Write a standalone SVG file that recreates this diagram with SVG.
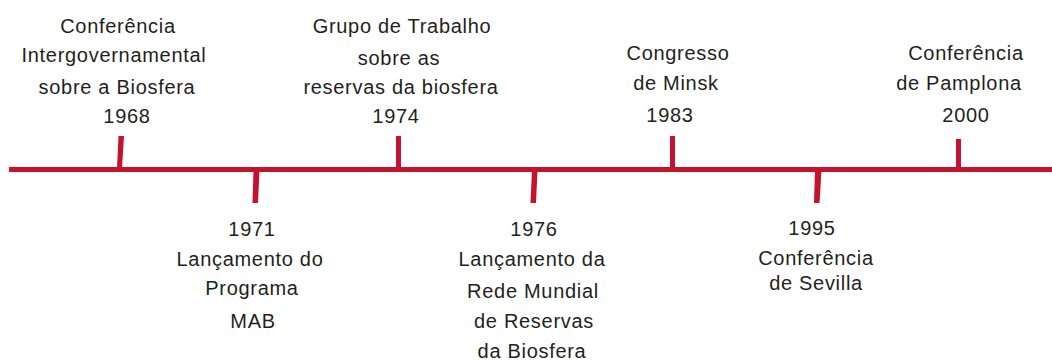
<svg xmlns="http://www.w3.org/2000/svg" width="1052" height="361" viewBox="0 0 1052 361">
<style>
  text { font-family: "Liberation Sans", Arial, sans-serif; font-size: 20px; fill: #231F20; text-anchor: middle; letter-spacing: 0.7px; }
  .red { fill: #C4122F; }
</style>
<rect width="1052" height="361" fill="#ffffff"/>
<g id="connectors">
  <rect id="axis" class="red" x="9" y="167" width="1043" height="5"/>
  <polygon class="red" points="118.5,136 124,136 122,168 117,168"/>
  <polygon class="red" points="253.5,170 259.5,170 258,203 252.5,203"/>
  <rect class="red" x="396" y="136" width="5" height="33"/>
  <polygon class="red" points="532,170 537.5,170 536,203 530.5,203"/>
  <rect class="red" x="670" y="136" width="5" height="33"/>
  <polygon class="red" points="815,170 821.5,170 819.5,203 814,203"/>
  <rect class="red" x="956" y="139" width="5" height="30"/>
</g>
<g id="e1968">
  <text x="118" y="33">Conferência</text>
  <text x="114" y="62">Intergovernamental</text>
  <text x="117" y="94">sobre a Biosfera</text>
  <text x="127" y="123">1968</text>
</g>
<g id="e1971">
  <text x="252" y="236">1971</text>
  <text x="250" y="266">Lançamento do</text>
  <text x="252" y="295">Programa</text>
  <text x="253" y="328">MAB</text>
</g>
<g id="e1974">
  <text x="402" y="33">Grupo de Trabalho</text>
  <text x="399" y="65">sobre as</text>
  <text x="401" y="94">reservas da biosfera</text>
  <text x="396" y="123">1974</text>
</g>
<g id="e1976">
  <text x="534" y="236">1976</text>
  <text x="532" y="266">Lançamento da</text>
  <text x="533" y="298">Rede Mundial</text>
  <text x="534" y="328">de Reservas</text>
  <text x="532" y="358">da Biosfera</text>
</g>
<g id="e1983">
  <text x="678" y="60">Congresso</text>
  <text x="676" y="90">de Minsk</text>
  <text x="670" y="122">1983</text>
</g>
<g id="e1995">
  <text x="812" y="235">1995</text>
  <text x="816" y="265">Conferência</text>
  <text x="816" y="290">de Sevilla</text>
</g>
<g id="e2000">
  <text x="966" y="60">Conferência</text>
  <text x="959" y="90">de Pamplona</text>
  <text x="966" y="122">2000</text>
</g>
</svg>
